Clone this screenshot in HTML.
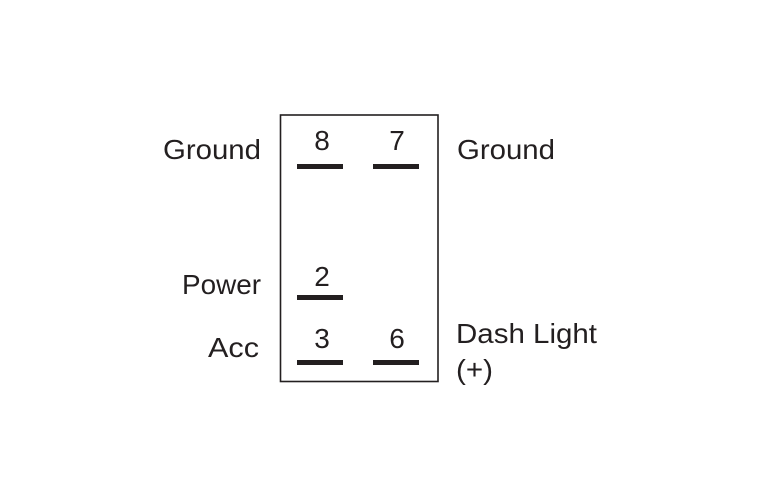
<!DOCTYPE html>
<html><head><meta charset="utf-8"><style>
html,body{margin:0;padding:0;background:#fff;}
svg{display:block;}
text{font-family:"Liberation Sans",Arial,sans-serif;font-size:28px;fill:#231f20;}
</style></head><body>
<svg width="760" height="500" viewBox="0 0 760 500">
<rect x="0" y="0" width="760" height="500" fill="#fff"/>
<rect x="280.5" y="115" width="157.5" height="266.5" fill="none" stroke="#231f20" stroke-width="1.6"/>
<g fill="#231f20">
<rect x="297" y="164" width="46" height="5"/>
<rect x="373" y="164" width="46" height="5"/>
<rect x="297" y="295" width="46" height="5"/>
<rect x="297" y="360" width="46" height="5"/>
<rect x="373" y="360" width="46" height="5"/>
</g>
<text x="322" y="150" text-anchor="middle">8</text>
<text x="397" y="150" text-anchor="middle">7</text>
<text x="322" y="286" text-anchor="middle">2</text>
<text x="322" y="348" text-anchor="middle">3</text>
<text x="397" y="348" text-anchor="middle">6</text>
<text x="163" y="159" textLength="98" lengthAdjust="spacingAndGlyphs">Ground</text>
<text x="457" y="159" textLength="98" lengthAdjust="spacingAndGlyphs">Ground</text>
<text x="182" y="294" textLength="79" lengthAdjust="spacingAndGlyphs">Power</text>
<text x="208" y="357" textLength="51" lengthAdjust="spacingAndGlyphs">Acc</text>
<text x="456" y="343" textLength="141" lengthAdjust="spacingAndGlyphs">Dash Light</text>
<text x="456" y="379" textLength="37" lengthAdjust="spacingAndGlyphs">(+)</text>
</svg>
</body></html>
